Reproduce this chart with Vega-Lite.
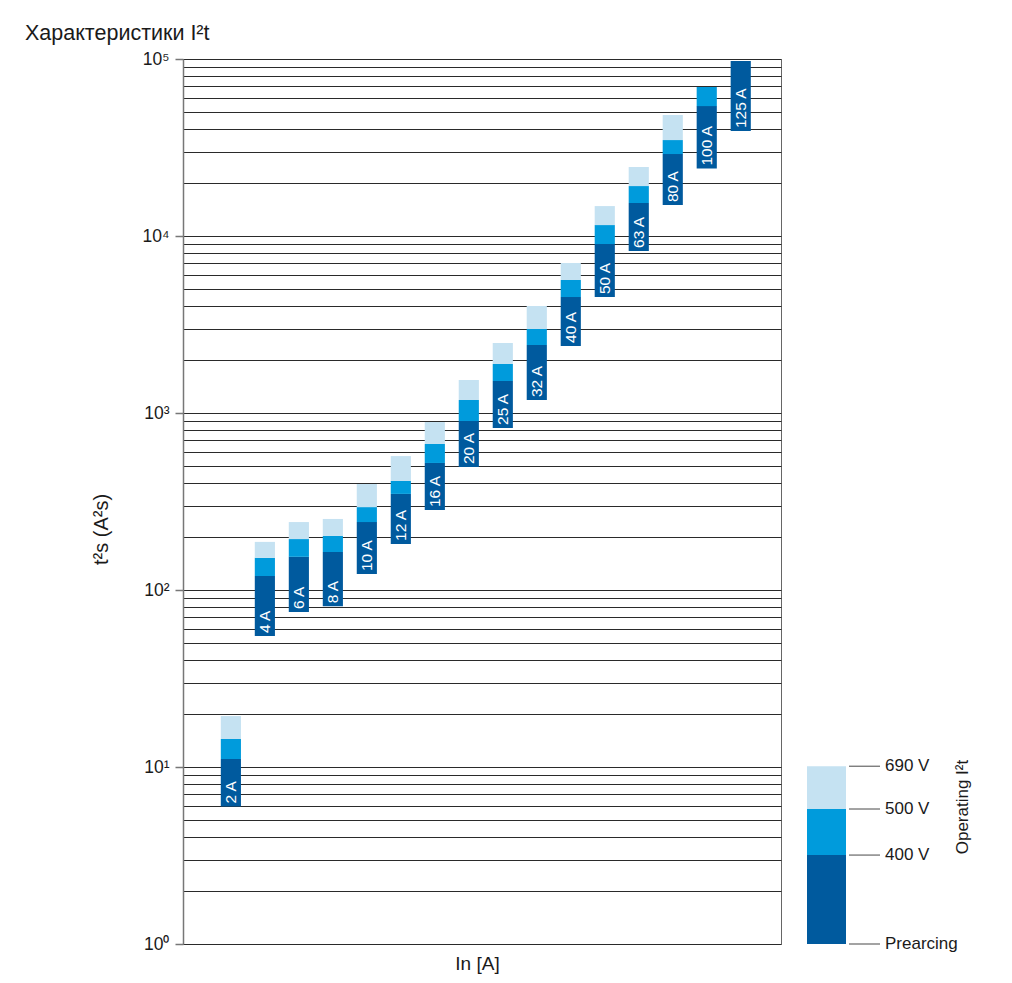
{
  "$schema": "https://vega.github.io/schema/vega-lite/v6.json",
  "autosize": {"type": "none"},
  "padding": {"left": 183, "top": 59, "right": 829, "bottom": 924},
  "background": "white",
  "bounds": "flush",
  "spacing": 26,
  "title": {"text": "Характеристики I²t", "anchor": "start", "frame": "group", "dx": -158, "offset": 5, "fontSize": 21.5, "fontWeight": "normal", "color": "#1a1a1a", "font": "Liberation Sans"},
  "config": {
    "font": "Liberation Sans",
    "view": {"stroke": null},
    "axis": {"labelColor": "#1a1a1a", "titleColor": "#1a1a1a", "titleFontWeight": "normal"}
  },
  "hconcat": [
    {
      "width": 598,
      "height": 885,
      "view": {"stroke": "#666", "strokeWidth": 1},
      "data": {"values": [
        {"In": "2 A", "pre": 5.98, "v400": 11.1, "v500": 14.4, "v690": 19.4},
        {"In": "4 A", "pre": 55, "v400": 120, "v500": 152, "v690": 187},
        {"In": "6 A", "pre": 75, "v400": 154, "v500": 194, "v690": 242},
        {"In": "8 A", "pre": 81, "v400": 164, "v500": 202, "v690": 252},
        {"In": "10 A", "pre": 123, "v400": 242, "v500": 294, "v690": 397},
        {"In": "12 A", "pre": 182, "v400": 349, "v500": 413, "v690": 571},
        {"In": "16 A", "pre": 283, "v400": 522, "v500": 668, "v690": 889},
        {"In": "20 A", "pre": 495, "v400": 901, "v500": 1184, "v690": 1536},
        {"In": "25 A", "pre": 823, "v400": 1517, "v500": 1891, "v690": 2485},
        {"In": "32 A", "pre": 1184, "v400": 2421, "v500": 2983, "v690": 4024},
        {"In": "40 A", "pre": 2392, "v400": 4520, "v500": 5640, "v690": 7036},
        {"In": "50 A", "pre": 4520, "v400": 9010, "v500": 11530, "v690": 14760},
        {"In": "63 A", "pre": 8230, "v400": 15360, "v500": 19150, "v690": 24540},
        {"In": "80 A", "pre": 14950, "v400": 29040, "v500": 34840, "v690": 48270},
        {"In": "100 A", "pre": 24060, "v400": 54170, "v500": 69450, "v690": null},
        {"In": "125 A", "pre": 39180, "v400": 97450, "v500": null, "v690": null}
      ]},
      "encoding": {
        "x": {
          "field": "In", "type": "nominal", "sort": null,
          "scale": {"paddingInner": 0.407, "paddingOuter": 1.067, "align": 0.556},
          "axis": {"title": "In [A]", "labels": false, "ticks": false, "domain": false, "titleFontSize": 19, "titleFont": "Liberation Sans Narrow, Liberation Sans", "titlePadding": 10, "titleX": 294}
        }
      },
      "layer": [
        {
          "mark": {"type": "bar", "color": "#005A9E"},
          "encoding": {
            "y": {
              "field": "pre", "type": "quantitative", "title": "t²s (A²s)",
              "scale": {"type": "log", "domain": [1, 100000], "nice": false},
              "axis": {
                "values": [1,2,3,4,5,6,7,8,9,10,20,30,40,50,60,70,80,90,100,200,300,400,500,600,700,800,900,1000,2000,3000,4000,5000,6000,7000,8000,9000,10000,20000,30000,40000,50000,60000,70000,80000,90000,100000],
                "grid": true, "gridColor": "#2a2a2a", "gridWidth": 1,
                "tickSize": 8, "tickColor": "#777", "tickWidth": 1.5,
                "tickOpacity": {"condition": {"test": "indexof([1,10,100,1000,10000,100000], datum.value) >= 0", "value": 1}, "value": 0},
                "labelExpr": "datum.value == 1 ? '10⁰' : datum.value == 10 ? '10¹' : datum.value == 100 ? '10²' : datum.value == 1000 ? '10³' : datum.value == 10000 ? '10⁴' : datum.value == 100000 ? '10⁵' : ''",
                "labelFontSize": 17.5, "labelPadding": 6, "labelOverlap": false, "labelFlush": false, "labelBound": false,
                "domainColor": "#777", "domainWidth": 1.5,
                "titleFontSize": 20, "titleX": -82, "titleY": 470, "titleBaseline": "middle", "titleAlign": "center", "titleAngle": 270
              }
            },
            "y2": {"field": "v400"}
          }
        },
        {
          "transform": [{"filter": "isValid(datum.v500)"}],
          "mark": {"type": "bar", "color": "#009BDC"},
          "encoding": {
            "y": {"field": "v400", "type": "quantitative", "title": "t²s (A²s)"},
            "y2": {"field": "v500"}
          }
        },
        {
          "transform": [{"filter": "isValid(datum.v690)"}],
          "mark": {"type": "bar", "color": "#C5E2F2"},
          "encoding": {
            "y": {"field": "v500", "type": "quantitative", "title": "t²s (A²s)"},
            "y2": {"field": "v690"}
          }
        },
        {
          "mark": {"type": "text", "angle": 270, "align": "left", "baseline": "middle", "dx": 3, "color": "white", "fontSize": 15.5},
          "encoding": {
            "y": {"field": "pre", "type": "quantitative", "title": "t²s (A²s)"},
            "text": {"field": "In"}
          }
        }
      ]
    },
    {
      "width": 180,
      "height": 885,
      "view": {"stroke": null},
      "layer": [
        {
          "data": {"values": [
            {"seg": "400 V", "from": 1, "to": 3.18},
            {"seg": "500 V", "from": 3.18, "to": 5.79},
            {"seg": "690 V", "from": 5.79, "to": 10.1}
          ]},
          "mark": {"type": "rect"},
          "encoding": {
            "x": {"datum": 0, "type": "quantitative", "scale": {"domain": [0, 180], "nice": false, "zero": false}, "axis": null},
            "x2": {"datum": 39},
            "y": {"field": "from", "type": "quantitative", "scale": {"type": "log", "domain": [1, 100000], "nice": false}, "axis": null},
            "y2": {"field": "to"},
            "color": {"field": "seg", "type": "nominal", "scale": {"domain": ["400 V", "500 V", "690 V"], "range": ["#005A9E", "#009BDC", "#C5E2F2"]}, "legend": null}
          }
        },
        {
          "data": {"values": [
            {"label": "690 V", "at": 10.1},
            {"label": "500 V", "at": 5.79},
            {"label": "400 V", "at": 3.18},
            {"label": "Prearcing", "at": 1}
          ]},
          "layer": [
            {
              "mark": {"type": "rule", "color": "#666", "strokeWidth": 1.2},
              "encoding": {
                "x": {"datum": 42, "type": "quantitative"},
                "x2": {"datum": 73},
                "y": {"field": "at", "type": "quantitative"}
              }
            },
            {
              "mark": {"type": "text", "align": "left", "baseline": "middle", "fontSize": 17, "color": "#1a1a1a"},
              "encoding": {
                "x": {"datum": 78, "type": "quantitative"},
                "y": {"field": "at", "type": "quantitative"},
                "text": {"field": "label"}
              }
            }
          ]
        },
        {
          "data": {"values": [{"t": "Operating I²t", "at": 5.94}]},
          "mark": {"type": "text", "angle": 270, "align": "center", "baseline": "middle", "fontSize": 17, "color": "#1a1a1a"},
          "encoding": {
            "x": {"datum": 156, "type": "quantitative"},
            "y": {"field": "at", "type": "quantitative"},
            "text": {"field": "t"}
          }
        }
      ]
    }
  ]
}
